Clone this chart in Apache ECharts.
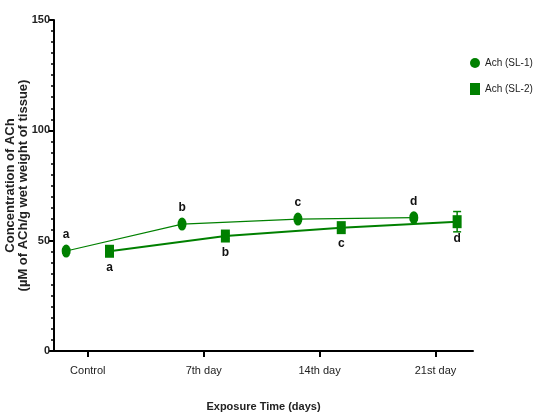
<!DOCTYPE html>
<html>
<head>
<meta charset="utf-8">
<script src="https://cdn.jsdelivr.net/npm/echarts@6/dist/echarts.min.js"></script>
<style>
  html, body { margin: 0; padding: 0; background: #fff; }
  #chart { width: 534px; height: 417px; }
</style>
</head>
<body>
<div id="chart"></div>
<script>
// Exposure groups
const categories = ['Control', '7th day', '14th day', '21st day'];
// ACh concentration (µM of ACh/g wet weight of tissue)
const sl1Values = [45.3, 57.5, 59.8, 60.4];
const sl2Values = [45.2, 52.1, 55.9, 58.6];
// Standard errors
const sl1Errors = [1.0, 1.0, 1.0, 1.0];
const sl2Errors = [1.0, 1.2, 1.0, 4.6];
// Significance letters
const sl1Letters = ['a', 'b', 'c', 'd'];
const sl2Letters = ['a', 'b', 'c', 'd'];
const seriesNames = ['Ach (SL-1)', 'Ach (SL-2)'];
const yTicks = [0, 50, 100, 150];

const GREEN = '#008000';
const SANS = "'Liberation Sans', Arial, sans-serif";
const SHIFT = 0.187; // side-by-side offset of the two groups within a category

function pts(values, dx) {
  return values.map((v, i) => [i + dx, v]);
}
function errData(values, errs, dx) {
  return values.map((v, i) => [i + dx, v - errs[i], v + errs[i]]);
}
function errorBars(name, data) {
  return {
    type: 'custom',
    name: name + ' err',
    z: 1,
    silent: true,
    renderItem: function (params, api) {
      const x = api.value(0);
      const lo = api.coord([x, api.value(1)]);
      const hi = api.coord([x, api.value(2)]);
      const w = 4;
      const style = { stroke: GREEN, lineWidth: 1.5 };
      return {
        type: 'group',
        children: [
          { type: 'line', shape: { x1: lo[0], y1: lo[1], x2: hi[0], y2: hi[1] }, style },
          { type: 'line', shape: { x1: lo[0] - w, y1: lo[1], x2: lo[0] + w, y2: lo[1] }, style },
          { type: 'line', shape: { x1: hi[0] - w, y1: hi[1], x2: hi[0] + w, y2: hi[1] }, style }
        ]
      };
    },
    encode: { x: 0, y: [1, 2] },
    data: data
  };
}

const chart = echarts.init(document.getElementById('chart'), null, { renderer: 'canvas' });
chart.setOption({
  animation: false,
  backgroundColor: '#fff',
  grid: { left: 54, right: 61, top: 20, bottom: 66, containLabel: false, outerBoundsMode: 'none' },
  legend: {
    orient: 'vertical',
    left: 465,
    top: 53,
    itemGap: 15,
    itemWidth: 10,
    itemHeight: 12,
    textStyle: { fontFamily: SANS, fontSize: 10, color: '#222' },
    data: [
      { name: seriesNames[0], icon: 'circle' },
      { name: seriesNames[1], icon: 'rect' }
    ]
  },
  xAxis: {
    type: 'value',
    min: -0.292,
    max: 3.324,
    splitLine: { show: false },
    axisLine: { show: true, onZero: false, lineStyle: { color: '#000', width: 2 } },
    axisTick: { show: true, length: 6, lineStyle: { color: '#000', width: 2 }, customValues: [0, 1, 2, 3] },
    axisLabel: {
      customValues: [0, 1, 2, 3],
      formatter: v => categories[Math.round(v)],
      fontFamily: SANS, fontSize: 11, color: '#222', margin: 14
    },
    name: 'Exposure Time (days)',
    nameLocation: 'middle',
    nameGap: 50,
    nameMoveOverlap: false,
    nameTextStyle: { fontFamily: SANS, fontSize: 11, fontWeight: 'bold', color: '#222' }
  },
  yAxis: {
    type: 'value',
    min: 0,
    max: 150,
    interval: 50,
    splitLine: { show: false },
    axisLine: { show: true, onZero: false, lineStyle: { color: '#000', width: 2 } },
    axisTick: { show: true, length: 5, lineStyle: { color: '#000', width: 2 } },
    minorTick: { show: true, splitNumber: 10, length: 3, lineStyle: { color: '#000', width: 1.5 } },
    axisLabel: {
      customValues: yTicks,
      fontFamily: SANS, fontSize: 11, fontWeight: 'bold', color: '#222', margin: 4
    },
    name: 'Concentration of ACh\n(µM of ACh/g wet weight of tissue)',
    nameLocation: 'middle',
    nameGap: 24,
    nameMoveOverlap: false,
    nameRotate: 90,
    nameTextStyle: {
      fontFamily: SANS,
      fontSize: 13, fontWeight: 'bold', color: '#222', lineHeight: 13
    }
  },
  series: [
    errorBars(seriesNames[0], errData(sl1Values, sl1Errors, -SHIFT)),
    errorBars(seriesNames[1], errData(sl2Values, sl2Errors, SHIFT)),
    {
      name: seriesNames[0],
      type: 'line',
      z: 3,
      data: pts(sl1Values, -SHIFT),
      symbol: 'circle',
      symbolSize: [9, 13],
      itemStyle: { color: GREEN },
      lineStyle: { color: GREEN, width: 1.2 },
      label: {
        show: true, position: 'top', distance: 4,
        formatter: p => sl1Letters[p.dataIndex],
        fontFamily: SANS, fontSize: 12, fontWeight: 'bold', color: '#111'
      }
    },
    {
      name: seriesNames[1],
      type: 'line',
      z: 3,
      data: pts(sl2Values, SHIFT),
      symbol: 'rect',
      symbolSize: [9, 13],
      itemStyle: { color: GREEN },
      lineStyle: { color: GREEN, width: 2 },
      label: {
        show: true, position: 'bottom', distance: 4,
        formatter: p => sl2Letters[p.dataIndex],
        fontFamily: SANS, fontSize: 12, fontWeight: 'bold', color: '#111'
      }
    }
  ]
});
</script>
</body>
</html>
